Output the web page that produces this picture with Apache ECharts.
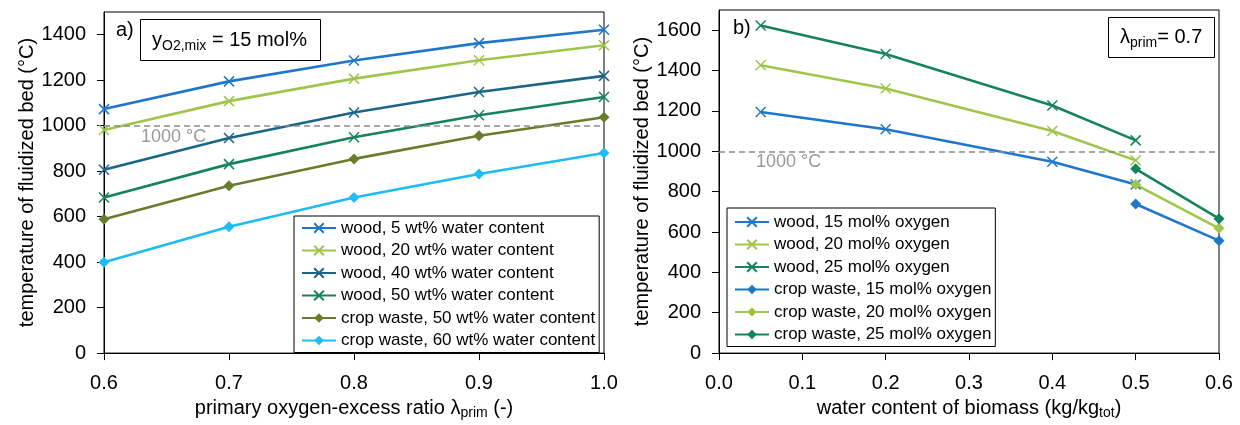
<!DOCTYPE html>
<html>
<head>
<meta charset="utf-8">
<script src="https://cdn.jsdelivr.net/npm/echarts@6/dist/echarts.min.js"></script>
<style>
html,body{margin:0;padding:0;background:#fff;}
#chart{width:1240px;height:425px;}
</style>
</head>
<body>
<div id="chart"></div>
<script>
// ---------- data: panel a ----------
const lambdaPrim = [0.6, 0.7, 0.8, 0.9, 1.0];
const wood5  = [1073, 1195, 1287, 1363, 1422];
const wood20 = [981, 1108, 1207, 1288, 1354];
const wood40 = [806, 946, 1058, 1148, 1219];
const wood50 = [684, 831, 949, 1046, 1126];
const crop50 = [589, 736, 854, 956, 1037];
const crop60 = [400, 556, 684, 788, 880];
const namesA = ['wood, 5 wt% water content','wood, 20 wt% water content','wood, 40 wt% water content','wood, 50 wt% water content','crop waste, 50 wt% water content','crop waste, 60 wt% water content'];

// ---------- data: panel b ----------
const waterWood = [0.05, 0.2, 0.4, 0.5];
const woodO15 = [1195, 1109, 948, 835];
const woodO20 = [1426, 1311, 1100, 955];
const woodO25 = [1623, 1482, 1227, 1054];
const waterCrop = [0.5, 0.6];
const cropO15 = [739, 557];
const cropO20 = [835, 618];
const cropO25 = [913, 666];
const namesB = ['wood, 15 mol% oxygen','wood, 20 mol% oxygen','wood, 25 mol% oxygen','crop waste, 15 mol% oxygen','crop waste, 20 mol% oxygen','crop waste, 25 mol% oxygen'];

// ticks
const yTicksA = [0, 200, 400, 600, 800, 1000, 1200, 1400];
const yTicksB = [0, 200, 400, 600, 800, 1000, 1200, 1400, 1600];
const xTicksA = [0.6, 0.7, 0.8, 0.9, 1.0];
const xTicksB = [0.0, 0.1, 0.2, 0.3, 0.4, 0.5, 0.6];
const refTemp = 1000;

// colours
const C = {
  blue: '#1f77cc',
  lgreen: '#9fc54a',
  dteal: '#1b6688',
  green: '#168262',
  olive: '#6a7c2c',
  cyan: '#1ebcf5'
};

const FONT = "'Liberation Sans', Arial, sans-serif";
const FS = 20;
const FS_LEG = 17;

const XSYM = 'path://M0,0L10,10M10,0L0,10';

function zip(xs, ys){ return xs.map((x,i)=>[x, ys[i]]); }

function mkSeries(name, xs, ys, color, kind, idx, markLine){
  const s = {
    type: 'line', name: name,
    xAxisIndex: idx, yAxisIndex: idx,
    data: zip(xs, ys),
    symbol: kind === 'x' ? XSYM : 'diamond',
    symbolSize: kind === 'x' ? 10 : 11,
    showAllSymbol: true,
    lineStyle: {color: color, width: 2.6},
    itemStyle: kind === 'x' ? {color: color, borderColor: color, borderWidth: 1.5} : {color: color, borderColor: color, borderWidth: 0},
    emphasis: {disabled: true},
    z: 3
  };
  if (markLine) {
    s.markLine = {
      silent: true, symbol: 'none', animation: false,
      lineStyle: {color: '#8c8c8c', type: [6, 4], width: 1.5},
      label: {show: true, position: 'insideStartBottom', formatter: '1000 °C', color: '#999999',
              fontFamily: FONT, fontSize: 18, distance: [37, 2]},
      data: [{yAxis: refTemp}]
    };
  }
  return s;
}

const axisCommon = {
  type: 'value',
  axisLine: {show: true, lineStyle: {color: '#000', width: 1}},
  axisTick: {show: true, inside: false, length: 7, lineStyle: {color: '#000', width: 1}},
  splitLine: {show: false},
  axisLabel: {color: '#000', fontFamily: FONT, fontSize: FS},
  nameTextStyle: {color: '#000', fontFamily: FONT, fontSize: FS}
};

function xAxis(idx, min, max, ticks, name, rich){
  return Object.assign({}, axisCommon, {
    gridIndex: idx, min: min, max: max,
    axisTick: Object.assign({}, axisCommon.axisTick, {customValues: ticks}),
    axisLabel: Object.assign({}, axisCommon.axisLabel, {customValues: ticks, margin: 20, formatter: v => v.toFixed(1)}),
    name: name, nameLocation: 'middle', nameGap: 38,
    nameTextStyle: {color: '#000', fontFamily: FONT, fontSize: FS, rich: rich}
  });
}
function yAxis(idx, min, max, ticks, gap){
  return Object.assign({}, axisCommon, {
    gridIndex: idx, min: min, max: max,
    axisTick: Object.assign({}, axisCommon.axisTick, {customValues: ticks}),
    axisLabel: Object.assign({}, axisCommon.axisLabel, {customValues: ticks, margin: 18, formatter: v => String(v)}),
    name: 'temperature of fluidized bed (°C)', nameLocation: 'middle', nameGap: gap, nameRotate: 90,
    nameTextStyle: {color: '#000', fontFamily: FONT, fontSize: FS}
  });
}

const subRich = {
  n: {fontFamily: FONT, fontSize: FS, color: '#000', lineHeight: 24},
  s: {fontFamily: FONT, fontSize: 14, color: '#000', lineHeight: 14, verticalAlign: 'bottom'}
};

const legendCommon = {
  orient: 'vertical',
  backgroundColor: '#fff',
  borderColor: '#000', borderWidth: 1,
  itemWidth: 34, itemHeight: 12,
  itemGap: 2.5,
  textStyle: {color: '#000', fontFamily: FONT, fontSize: FS_LEG, lineHeight: 20},
  selectedMode: false
};

const option = {
  animation: false,
  backgroundColor: '#fff',
  grid: [
    {left: 104, top: 12, width: 500, height: 347, show: true, borderColor: '#000', borderWidth: 1, backgroundColor: 'transparent'},
    {left: 719, top: 10, width: 500, height: 349, show: true, borderColor: '#000', borderWidth: 1, backgroundColor: 'transparent'}
  ],
  xAxis: [
    xAxis(0, 0.6, 1.0, xTicksA, '{n|primary oxygen-excess ratio λ}{s|prim}{n| (-)}', subRich),
    xAxis(1, 0.0, 0.6, xTicksB, '{n|water content of biomass (kg/kg}{s|tot}{n|)}', subRich)
  ],
  yAxis: [
    yAxis(0, 0, 1500, yTicksA, 66),
    yAxis(1, 0, 1700, yTicksB, 66)
  ],
  legend: [
    Object.assign({}, legendCommon, {left: 294, top: 216, padding: [2, 4, 2, 7], data: namesA}),
    Object.assign({}, legendCommon, {left: 727, top: 208, padding: [4, 4, 2, 7], data: namesB})
  ],
  series: [
    mkSeries(namesA[0], lambdaPrim, wood5, C.blue, 'x', 0, true),
    mkSeries(namesA[1], lambdaPrim, wood20, C.lgreen, 'x', 0),
    mkSeries(namesA[2], lambdaPrim, wood40, C.dteal, 'x', 0),
    mkSeries(namesA[3], lambdaPrim, wood50, C.green, 'x', 0),
    mkSeries(namesA[4], lambdaPrim, crop50, C.olive, 'd', 0),
    mkSeries(namesA[5], lambdaPrim, crop60, C.cyan, 'd', 0),
    mkSeries(namesB[0], waterWood, woodO15, C.blue, 'x', 1, true),
    mkSeries(namesB[1], waterWood, woodO20, C.lgreen, 'x', 1),
    mkSeries(namesB[2], waterWood, woodO25, C.green, 'x', 1),
    mkSeries(namesB[3], waterCrop, cropO15, C.blue, 'd', 1),
    mkSeries(namesB[4], waterCrop, cropO20, C.lgreen, 'd', 1),
    mkSeries(namesB[5], waterCrop, cropO25, C.green, 'd', 1)
  ],
  graphic: [
    {type: 'text', left: 116, top: 20, style: {text: 'a)', fontFamily: FONT, fontSize: 20, fill: '#000'}},
    {type: 'rect', shape: {x: 140.5, y: 19.5, width: 180, height: 41}, style: {fill: '#fff', stroke: '#000', lineWidth: 1}, z: 10},
    {type: 'text', x: 152, y: 40, z: 11, style: {
      text: '{n|y}{s|O2,mix}{n| = 15 mol%}', verticalAlign: 'middle',
      rich: {n: {fontFamily: FONT, fontSize: 20, fill: '#000', lineHeight: 26},
             s: {fontFamily: FONT, fontSize: 14, fill: '#000', lineHeight: 15, verticalAlign: 'bottom'}}
    }},
    {type: 'text', left: 733, top: 18, style: {text: 'b)', fontFamily: FONT, fontSize: 20, fill: '#000'}},
    {type: 'rect', shape: {x: 1108.5, y: 17.5, width: 106, height: 40}, style: {fill: '#fff', stroke: '#000', lineWidth: 1}, z: 10},
    {type: 'text', x: 1120, y: 37, z: 11, style: {
      text: '{n|λ}{s|prim}{n|= 0.7}', verticalAlign: 'middle',
      rich: {n: {fontFamily: FONT, fontSize: 20, fill: '#000', lineHeight: 26},
             s: {fontFamily: FONT, fontSize: 14, fill: '#000', lineHeight: 15, verticalAlign: 'bottom'}}
    }}
  ]
};

const chart = echarts.init(document.getElementById('chart'), null, {renderer: 'canvas'});
chart.setOption(option);
</script>
</body>
</html>
